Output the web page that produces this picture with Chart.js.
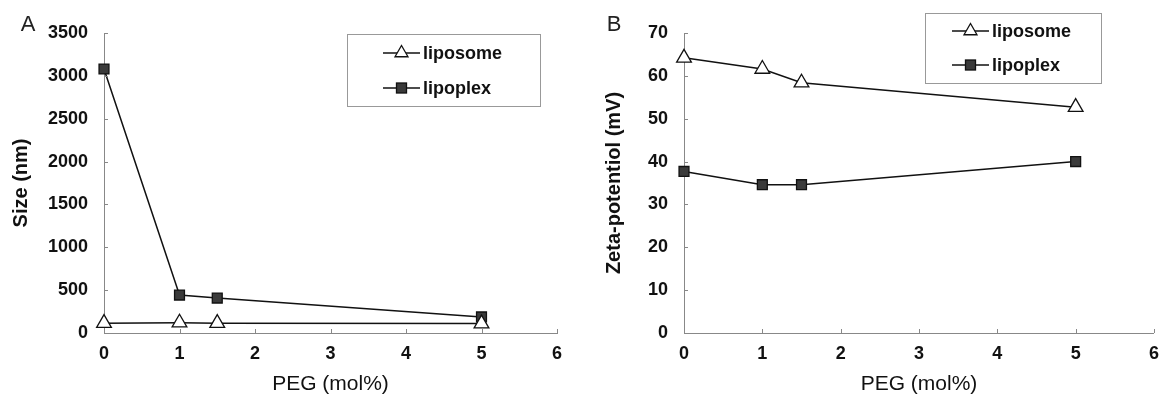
<!DOCTYPE html>
<html>
<head>
<meta charset="utf-8">
<script src="https://cdn.jsdelivr.net/npm/chart.js@4"></script>
<style>
  body { margin: 0; background: #fff; }
  .panel { position: absolute; top: 0; height: 399px; }
  #wrapA { left: 0; width: 590px; }
  #wrapB { left: 590px; width: 579px; }
</style>
</head>
<body>
<div class="panel" id="wrapA"><canvas id="sizeChart"></canvas></div>
<div class="panel" id="wrapB"><canvas id="zetaChart"></canvas></div>
<script>
// PEG content (mol%)
const peg = [0, 1, 1.5, 5];

// panel A: particle size (nm)
const sizeLiposome = [115, 120, 115, 110];
const sizeLipoplex = [3080, 443, 408, 187];

// panel B: zeta potential (mV)
const zetaLiposome = [64.2, 61.6, 58.4, 52.7];
const zetaLipoplex = [37.7, 34.6, 34.6, 40.0];

const seriesNames = ["liposome", "lipoplex"];

const FONT = "'Liberation Sans', Arial, sans-serif";

function pts(ys) {
    return peg.map((x, i) => ({x: x, y: ys[i]}));
}

function drawMarker(ctx, style, x, y) {
    ctx.save();
    ctx.lineWidth = 1.3;
    ctx.strokeStyle = "#111";
    if (style === "triangle") {
        const r = 7.5;
        ctx.fillStyle = "#fff";
        ctx.beginPath();
        ctx.moveTo(x, y - r);
        ctx.lineTo(x + r * 0.866, y + r * 0.5);
        ctx.lineTo(x - r * 0.866, y + r * 0.5);
        ctx.closePath();
        ctx.fill();
        ctx.stroke();
    } else {
        ctx.fillStyle = "#3a3a3a";
        ctx.fillRect(x - 5, y - 5, 10, 10);
        ctx.strokeRect(x - 5, y - 5, 10, 10);
    }
    ctx.restore();
}

// inward tick marks, panel letter and boxed legend
const decorations = {
    id: "decorations",
    afterDraw(chart, args, opts) {
        const ctx = chart.ctx;
        const xs = chart.scales.x, ys = chart.scales.y;
        ctx.save();
        ctx.strokeStyle = "#888";
        ctx.lineWidth = 1;
        ctx.beginPath();
        xs.ticks.forEach((t, i) => {
            const px = Math.round(xs.getPixelForTick(i)) + 0.5;
            ctx.moveTo(px, xs.top);
            ctx.lineTo(px, xs.top - 4);
        });
        ys.ticks.forEach((t, i) => {
            const py = Math.round(ys.getPixelForTick(i)) + 0.5;
            ctx.moveTo(ys.right, py);
            ctx.lineTo(ys.right + 4, py);
        });
        ctx.stroke();

        // panel letter
        ctx.fillStyle = "#222";
        ctx.font = "22px " + FONT;
        ctx.textAlign = "center";
        ctx.textBaseline = "middle";
        ctx.fillText(opts.letter, opts.letterX, 25);

        // legend box
        const b = opts.box;
        ctx.strokeStyle = "#999";
        ctx.strokeRect(b.x + 0.5, b.y + 0.5, b.w, b.h);
        ctx.font = "bold 18px " + FONT;
        ctx.textAlign = "left";
        chart.data.datasets.forEach((ds, i) => {
            const y = b.y + b.rows[i];
            ctx.strokeStyle = "#111";
            ctx.lineWidth = 1.5;
            ctx.beginPath();
            ctx.moveTo(b.x + b.lineStart, y);
            ctx.lineTo(b.x + b.lineStart + 37, y);
            ctx.stroke();
            drawMarker(ctx, ds.pointStyle, b.x + b.lineStart + 18.5, y);
            ctx.fillStyle = "#111";
            ctx.fillText(ds.label, b.x + b.lineStart + 40, y + 1);
        });
        ctx.restore();
    }
};

function makeChart(id, dataA, dataB, yMax, yStep, yTitle, yWidth, padRight, letter, letterX, box, titlePad) {
    return new Chart(document.getElementById(id), {
        type: "line",
        data: {
            datasets: [{
                label: seriesNames[0],
                data: pts(dataA),
                clip: false,
                borderColor: "#111",
                borderWidth: 1.5,
                pointStyle: "triangle",
                pointRadius: 8.5,
                pointBackgroundColor: "#fff",
                pointBorderColor: "#111",
                pointBorderWidth: 1.3
            }, {
                label: seriesNames[1],
                data: pts(dataB),
                clip: false,
                borderColor: "#111",
                borderWidth: 1.5,
                pointStyle: "rect",
                pointRadius: 7,
                pointBackgroundColor: "#3a3a3a",
                pointBorderColor: "#111",
                pointBorderWidth: 1.3
            }]
        },
        options: {
            responsive: true,
            maintainAspectRatio: false,
            animation: false,
            layout: { padding: { left: 0, top: 33, right: padRight, bottom: 0 } },
            plugins: {
                legend: { display: false },
                tooltip: { enabled: false },
                decorations: { letter: letter, letterX: letterX, box: box }
            },
            scales: {
                x: {
                    type: "linear",
                    min: 0, max: 6,
                    grid: { display: false, drawTicks: false },
                    border: { display: true, color: "#888", width: 1 },
                    ticks: { stepSize: 1, padding: 10, color: "#111",
                             callback: v => String(v),
                             font: { family: FONT, size: 18, weight: "bold" } },
                    title: { display: true, text: "PEG (mol%)", color: "#111",
                             padding: { top: 0, bottom: 2 },
                             font: { family: FONT, size: 21 } },
                    afterFit: s => { s.height = 66; }
                },
                y: {
                    min: 0, max: yMax,
                    grid: { display: false, drawTicks: false },
                    border: { display: true, color: "#888", width: 1 },
                    ticks: { stepSize: yStep, padding: 16, color: "#111",
                             callback: v => String(v),
                             font: { family: FONT, size: 18, weight: "bold" } },
                    title: { display: true, text: yTitle, color: "#111",
                             padding: { top: titlePad, bottom: 0 },
                             font: { family: FONT, size: 20, weight: "bold" } },
                    afterFit: s => { s.width = yWidth; }
                }
            }
        },
        plugins: [decorations]
    });
}

makeChart("sizeChart", sizeLiposome, sizeLipoplex, 3500, 500, "Size (nm)",
    104, 33, "A", 28,
    { x: 347, y: 34, w: 193, h: 72, rows: [19, 54], lineStart: 36 }, 9);

makeChart("zetaChart", zetaLiposome, zetaLipoplex, 70, 10, "Zeta-potentiol (mV)",
    94, 9, "B", 24,
    { x: 335, y: 13, w: 176, h: 70, rows: [18, 52], lineStart: 27 }, 12);
</script>
</body>
</html>
